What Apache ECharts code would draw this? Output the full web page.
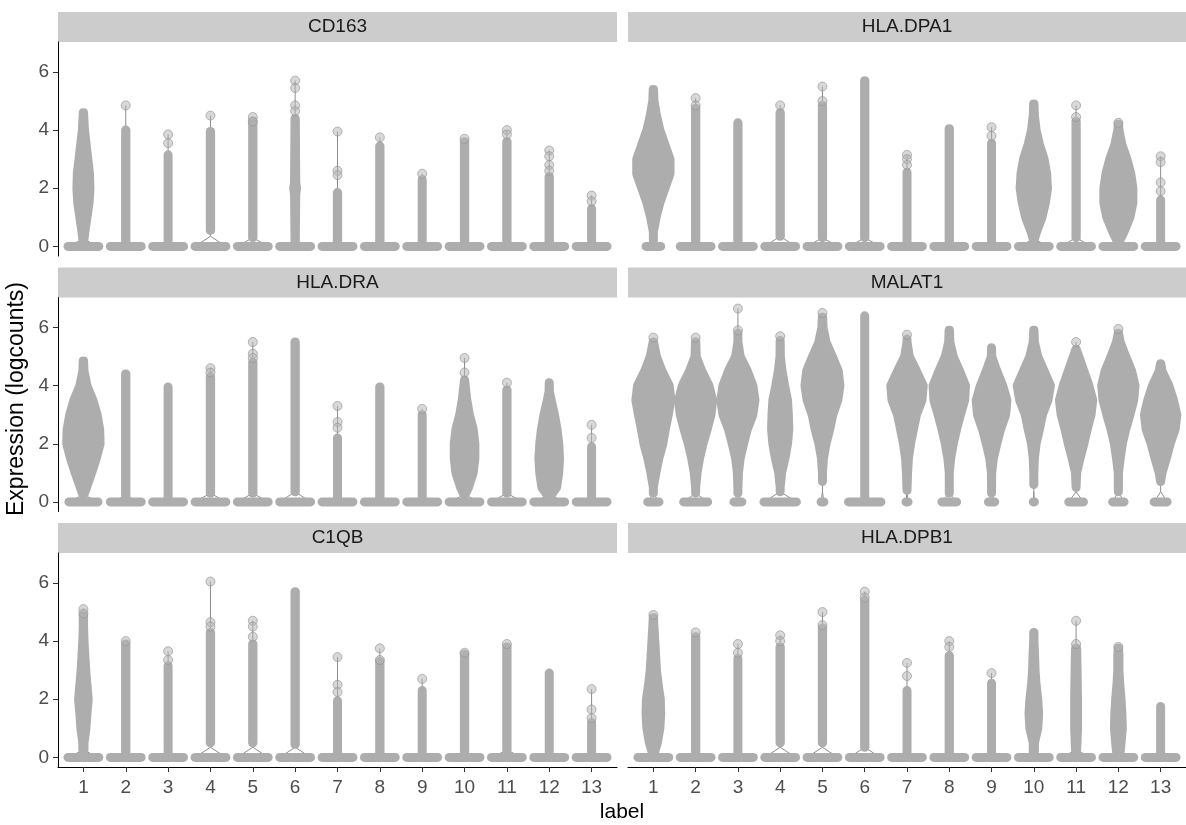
<!DOCTYPE html>
<html>
<head>
<meta charset="utf-8">
<script src="https://cdn.jsdelivr.net/npm/echarts@6/dist/echarts.min.js"></script>
<style>
  html, body { margin: 0; padding: 0; background: #fff; }
  #chart { width: 1186px; height: 825px; }
</style>
</head>
<body>
<div id="chart"></div>
<script>
// cluster labels and facet names
const clusters = ['1', '2', '3', '4', '5', '6', '7', '8', '9', '10', '11', '12', '13'];
const genes = ['CD163', 'HLA.DPA1', 'HLA.DRA', 'MALAT1', 'C1QB', 'HLA.DPB1'];
const yTicks = [0, 2, 4, 6];

// per gene: half-width of the zero blob (x units), violin body as [y, half-width] pairs,
// and the single outlying points above each body
const cd163Zero = [0.47, 0.47, 0.47, 0.47, 0.47, 0.47, 0.47, 0.47, 0.47, 0.47, 0.47, 0.47, 0.47];
const cd163Body = [
  [[0.25, 0.12], [0.5, 0.14], [1, 0.19], [1.5, 0.24], [2, 0.26], [2.5, 0.25], [3, 0.21], [3.5, 0.17], [4, 0.13], [4.6, 0.11]],
  [[0.2, 0.11], [4.0, 0.11]],
  [[0.15, 0.1], [3.15, 0.1]],
  [[0.55, 0.11], [3.95, 0.11]],
  [[0.3, 0.11], [4.3, 0.11]],
  [[0.2, 0.11], [1.8, 0.12], [2.0, 0.14], [2.2, 0.12], [4.4, 0.11]],
  [[0.1, 0.11], [1.85, 0.11]],
  [[0.1, 0.11], [3.45, 0.11]],
  [[0.1, 0.1], [2.3, 0.1]],
  [[0.2, 0.11], [3.6, 0.11]],
  [[0.2, 0.11], [3.6, 0.11]],
  [[0.1, 0.11], [2.4, 0.11]],
  [[0.1, 0.1], [1.3, 0.1]]
];
const cd163Pts = [[], [4.85], [3.85, 3.55], [4.5], [4.45, 4.3], [5.7, 5.45, 4.85, 4.65], [3.95, 2.6, 2.45], [3.75], [2.5], [3.7], [4.0, 3.85], [3.3, 3.1, 2.8, 2.6], [1.75, 1.55]];

const dpa1Zero = [0.28, 0.47, 0.47, 0.47, 0.47, 0.47, 0.47, 0.47, 0.47, 0.47, 0.47, 0.47, 0.47];
const dpa1Body = [
  [[0.2, 0.1], [0.5, 0.1], [1, 0.17], [1.5, 0.26], [2, 0.38], [2.5, 0.5], [3, 0.5], [3.5, 0.38], [4, 0.26], [4.5, 0.18], [5, 0.12], [5.4, 0.11]],
  [[0.2, 0.11], [4.75, 0.11]],
  [[0.2, 0.11], [4.25, 0.11]],
  [[0.35, 0.11], [4.6, 0.11]],
  [[0.3, 0.11], [4.85, 0.11]],
  [[0.3, 0.11], [5.7, 0.11]],
  [[0.1, 0.1], [2.55, 0.1]],
  [[0.2, 0.11], [4.05, 0.11]],
  [[0.1, 0.1], [3.55, 0.1]],
  [[0.25, 0.12], [0.5, 0.17], [1, 0.3], [1.5, 0.38], [2, 0.43], [2.5, 0.41], [3, 0.35], [3.5, 0.24], [4, 0.16], [4.5, 0.12], [4.9, 0.11]],
  [[0.3, 0.11], [4.3, 0.11]],
  [[0.2, 0.14], [0.5, 0.24], [1, 0.38], [1.5, 0.45], [2, 0.45], [2.5, 0.4], [3, 0.31], [3.5, 0.19], [4, 0.12], [4.2, 0.11]],
  [[0.1, 0.1], [1.6, 0.1]]
];
const dpa1Pts = [[], [5.1, 4.85], [], [4.85], [5.5, 5.0], [], [3.15, 3.0, 2.8], [], [4.1, 3.8], [], [4.85, 4.45], [4.25], [3.1, 2.9, 2.2, 1.9]];

const draZero = [0.45, 0.47, 0.47, 0.47, 0.47, 0.47, 0.47, 0.47, 0.47, 0.47, 0.47, 0.47, 0.47];
const draBody = [
  [[0.25, 0.12], [0.5, 0.18], [1, 0.3], [1.5, 0.41], [2, 0.5], [2.5, 0.49], [3, 0.43], [3.5, 0.33], [4, 0.19], [4.5, 0.12], [4.85, 0.11]],
  [[0.2, 0.11], [4.4, 0.11]],
  [[0.1, 0.1], [3.95, 0.1]],
  [[0.3, 0.11], [4.3, 0.11]],
  [[0.3, 0.11], [4.8, 0.11]],
  [[0.35, 0.11], [5.5, 0.11]],
  [[0.1, 0.1], [2.2, 0.1]],
  [[0.1, 0.11], [3.95, 0.11]],
  [[0.1, 0.1], [3.0, 0.1]],
  [[0.25, 0.12], [0.5, 0.2], [1, 0.31], [1.5, 0.35], [2, 0.35], [2.5, 0.31], [3, 0.22], [3.5, 0.16], [4.2, 0.1]],
  [[0.3, 0.11], [3.85, 0.11]],
  [[0.25, 0.16], [0.5, 0.28], [1, 0.33], [1.5, 0.35], [2, 0.33], [2.5, 0.29], [3, 0.23], [3.5, 0.15], [3.8, 0.11], [4.1, 0.1]],
  [[0.1, 0.1], [1.9, 0.1]]
];
const draPts = [[], [], [], [4.6, 4.45], [5.5, 5.1, 4.95], [], [3.3, 2.75, 2.55], [], [3.2], [4.95, 4.45], [4.1], [], [2.65, 2.2]];

const malat1Zero = [0.24, 0.39, 0.2, 0.49, 0.14, 0.49, 0.13, 0.28, 0.18, 0.12, 0.28, 0.24, 0.26];
const malat1Body = [
  [[0.3, 0.09], [0.5, 0.094], [1, 0.165], [1.5, 0.236], [2, 0.33], [2.5, 0.39], [3, 0.46], [3.5, 0.52], [4, 0.48], [4.5, 0.31], [5, 0.18], [5.5, 0.11]],
  [[0.3, 0.09], [0.5, 0.094], [1, 0.14], [1.5, 0.2], [2, 0.28], [2.5, 0.38], [3, 0.47], [3.5, 0.51], [4, 0.42], [4.5, 0.25], [5, 0.12], [5.5, 0.11]],
  [[0.3, 0.08], [0.5, 0.08], [1, 0.12], [1.5, 0.16], [2, 0.24], [2.5, 0.33], [3, 0.46], [3.5, 0.51], [4, 0.46], [4.5, 0.33], [5, 0.16], [5.5, 0.1], [5.8, 0.1]],
  [[0.35, 0.07], [0.5, 0.07], [1, 0.14], [1.5, 0.22], [2, 0.28], [2.5, 0.31], [3, 0.3], [3.5, 0.28], [4, 0.21], [4.5, 0.15], [5, 0.11], [5.55, 0.1]],
  [[0.7, 0.09], [1, 0.09], [1.5, 0.13], [2, 0.19], [2.5, 0.28], [3, 0.35], [3.5, 0.47], [4, 0.52], [4.5, 0.48], [5, 0.34], [5.5, 0.19], [6, 0.12], [6.35, 0.11]],
  [[0.1, 0.1], [6.4, 0.1]],
  [[0.4, 0.1], [1, 0.12], [1.5, 0.14], [2, 0.19], [2.5, 0.26], [3, 0.33], [3.5, 0.46], [4, 0.49], [4.5, 0.33], [5, 0.16], [5.5, 0.1], [5.6, 0.1]],
  [[0.3, 0.09], [1, 0.094], [1.5, 0.14], [2, 0.2], [2.5, 0.28], [3, 0.37], [3.5, 0.47], [4, 0.49], [4.5, 0.35], [5, 0.2], [5.5, 0.12], [5.9, 0.11]],
  [[0.3, 0.09], [0.5, 0.09], [1, 0.11], [1.5, 0.15], [2, 0.23], [2.5, 0.32], [3, 0.44], [3.5, 0.47], [4, 0.37], [4.5, 0.23], [5, 0.11], [5.3, 0.1]],
  [[0.6, 0.08], [1, 0.08], [1.5, 0.12], [2, 0.16], [2.5, 0.24], [3, 0.31], [3.5, 0.44], [4, 0.5], [4.5, 0.35], [5, 0.2], [5.5, 0.12], [5.9, 0.11]],
  [[0.5, 0.09], [1, 0.12], [1.5, 0.2], [2, 0.29], [2.5, 0.37], [3, 0.46], [3.5, 0.5], [4, 0.41], [4.5, 0.29], [5, 0.17], [5.25, 0.11]],
  [[0.35, 0.09], [1, 0.11], [1.5, 0.15], [2, 0.2], [2.5, 0.28], [3, 0.38], [3.5, 0.47], [4, 0.5], [4.5, 0.42], [5, 0.28], [5.5, 0.15], [5.8, 0.11]],
  [[0.7, 0.1], [1, 0.14], [1.5, 0.24], [2, 0.33], [2.5, 0.45], [3, 0.49], [3.5, 0.41], [4, 0.3], [4.5, 0.14], [4.75, 0.11]]
];
const malat1Pts = [[5.65], [5.65], [6.65, 5.9], [5.7], [6.5], [], [5.75], [], [], [], [5.5], [5.95], []];

const c1qbZero = [0.47, 0.47, 0.47, 0.47, 0.47, 0.47, 0.47, 0.47, 0.47, 0.47, 0.47, 0.47, 0.47];
const c1qbBody = [
  [[0.25, 0.12], [0.5, 0.12], [1, 0.165], [1.5, 0.19], [2, 0.22], [3, 0.16], [4, 0.12], [4.5, 0.11], [4.9, 0.11]],
  [[0.2, 0.11], [3.9, 0.11]],
  [[0.2, 0.1], [3.15, 0.1]],
  [[0.5, 0.11], [4.3, 0.11]],
  [[0.5, 0.11], [3.9, 0.11]],
  [[0.45, 0.11], [5.7, 0.11]],
  [[0.1, 0.1], [1.95, 0.1]],
  [[0.1, 0.11], [3.3, 0.11]],
  [[0.1, 0.1], [2.3, 0.1]],
  [[0.2, 0.11], [3.55, 0.11]],
  [[0.25, 0.11], [3.8, 0.11]],
  [[0.1, 0.1], [2.9, 0.1]],
  [[0.1, 0.1], [1.2, 0.1]]
];
const c1qbPts = [[5.1, 4.95], [4.0], [3.65, 3.35], [6.05, 4.65, 4.5], [4.7, 4.5, 4.15], [], [3.45, 2.5, 2.25], [3.75, 3.35], [2.7], [3.6], [3.9], [], [2.35, 1.65, 1.35]];

const dpb1Zero = [0.47, 0.47, 0.47, 0.47, 0.47, 0.47, 0.47, 0.47, 0.47, 0.47, 0.47, 0.47, 0.47];
const dpb1Body = [
  [[0.2, 0.14], [0.5, 0.2], [1, 0.26], [1.5, 0.28], [2, 0.27], [2.5, 0.22], [3, 0.18], [4, 0.14], [4.5, 0.12], [4.8, 0.11]],
  [[0.2, 0.11], [4.15, 0.11]],
  [[0.2, 0.1], [3.4, 0.1]],
  [[0.5, 0.11], [3.8, 0.11]],
  [[0.5, 0.11], [4.45, 0.11]],
  [[0.35, 0.11], [5.4, 0.11]],
  [[0.1, 0.1], [2.3, 0.1]],
  [[0.1, 0.11], [3.5, 0.11]],
  [[0.1, 0.1], [2.55, 0.1]],
  [[0.2, 0.12], [0.5, 0.12], [1, 0.2], [1.5, 0.22], [2, 0.2], [2.5, 0.16], [3, 0.135], [3.5, 0.125], [4, 0.11], [4.3, 0.11]],
  [[0.25, 0.12], [1, 0.14], [2, 0.14], [3, 0.13], [3.75, 0.12]],
  [[0.2, 0.15], [0.5, 0.17], [1, 0.2], [1.5, 0.19], [2, 0.17], [2.5, 0.14], [3, 0.12], [3.5, 0.12], [3.75, 0.11]],
  [[0.1, 0.1], [1.75, 0.1]]
];
const dpb1Pts = [[4.9], [4.3], [3.9, 3.6], [4.2, 4.0], [5.0, 4.55], [5.7, 5.5], [3.25, 2.8], [4.0, 3.8], [2.9], [], [4.7, 3.9], [3.8], []];

const zeroWidths = [cd163Zero, dpa1Zero, draZero, malat1Zero, c1qbZero, dpb1Zero];
const bodies = [cd163Body, dpa1Body, draBody, malat1Body, c1qbBody, dpb1Body];
const outliers = [cd163Pts, dpa1Pts, draPts, malat1Pts, c1qbPts, dpb1Pts];

const FILL = '#adadad';
const EDGE = '#8c8c8c';
const R = 4.5; // point radius in px
const FONT = '"Liberation Sans", Arial, sans-serif';

const colLeft = [58, 628];
const colWidth = [559, 558];
const rowTop = [42, 297.5, 553];
const plotH = 214;
const stripH = 30;

const chart = echarts.init(document.getElementById('chart'));

function violinRenderer(g) {
  return function (params, api) {
    const j = params.dataIndex;
    const k = api.value(0);
    const body = bodies[g][j];
    const pts = outliers[g][j];
    const unit = api.size([1, 0])[0];
    const cx = api.coord([k, 0])[0];
    const cy = (v) => api.coord([k, v])[1];
    const z0 = Math.max(0, zeroWidths[g][j] * unit - R);
    const children = [];

    // violin outline: neck down to the zero spike and tail up to the max point
    const yb = body[0][0];
    const yt = body[body.length - 1][0];
    const neck = Math.min(yb, 0.35);
    if (yb > neck) {
      children.push({ type: 'line', shape: { x1: cx, y1: cy(yb), x2: cx, y2: cy(neck) }, style: { stroke: EDGE, lineWidth: 1 } });
    }
    children.push({
      type: 'polyline',
      shape: { points: [[cx - z0, cy(0)], [cx, cy(neck)], [cx + z0, cy(0)]] },
      style: { stroke: EDGE, lineWidth: 1, fill: null }
    });
    if (pts.length) {
      const top = Math.max.apply(null, pts);
      if (top > yt) {
        children.push({ type: 'line', shape: { x1: cx, y1: cy(yt), x2: cx, y2: cy(top) }, style: { stroke: EDGE, lineWidth: 1 } });
      }
    }

    // dense point cloud of the body
    const right = body.map((p) => [cx + Math.max(0, p[1] * unit - R), cy(p[0])]);
    const left = body.slice().reverse().map((p) => [cx - Math.max(0, p[1] * unit - R), cy(p[0])]);
    children.push({
      type: 'polygon',
      shape: { points: right.concat(left) },
      style: { fill: FILL, stroke: FILL, lineWidth: 2 * R, lineJoin: 'round', lineCap: 'round' }
    });

    // points sitting at zero
    children.push({
      type: 'line',
      shape: { x1: cx - z0, y1: cy(0), x2: cx + z0 + 0.01, y2: cy(0) },
      style: { stroke: FILL, lineWidth: 2 * R, lineCap: 'round' }
    });

    return { type: 'group', children: children };
  };
}

const grids = [], xAxes = [], yAxes = [], series = [], graphics = [];

genes.forEach((gene, i) => {
  const col = i % 2, row = Math.floor(i / 2);
  const bottom = row === 2;
  grids.push({ left: colLeft[col], top: rowTop[row], width: colWidth[col], height: plotH });

  xAxes.push({
    type: 'value', gridIndex: i, min: 0.4, max: 13.6,
    axisLine: { show: bottom, onZero: false, lineStyle: { color: '#000', width: 1 } },
    axisTick: { show: bottom, customValues: clusters.map((c, j) => j + 1), length: 5, lineStyle: { color: '#333' } },
    axisLabel: {
      show: bottom, customValues: clusters.map((c, j) => j + 1),
      formatter: (v) => clusters[Math.round(v) - 1],
      fontSize: 19, color: '#4d4d4d', fontFamily: FONT, margin: 11
    },
    splitLine: { show: false }
  });

  yAxes.push({
    type: 'value', gridIndex: i, min: -0.33, max: 7.03,
    axisLine: { show: col === 0, onZero: false, lineStyle: { color: '#000', width: 1 } },
    axisTick: { show: col === 0, customValues: yTicks, length: 5, lineStyle: { color: '#333' } },
    axisLabel: { show: col === 0, customValues: yTicks, fontSize: 19, color: '#4d4d4d', fontFamily: FONT, margin: 9 },
    splitLine: { show: false }
  });

  series.push({
    type: 'custom', name: gene, xAxisIndex: i, yAxisIndex: i, silent: true,
    data: clusters.map((c, j) => [j + 1, 0]),
    renderItem: violinRenderer(i),
    z: 2
  });

  const pointData = [];
  outliers[i].forEach((list, j) => list.forEach((v) => pointData.push([j + 1, v])));
  series.push({
    type: 'scatter', xAxisIndex: i, yAxisIndex: i, silent: true,
    data: pointData, symbol: 'circle', symbolSize: 2 * R,
    itemStyle: { color: 'rgba(180,180,180,0.65)', borderColor: 'rgba(145,145,145,0.8)', borderWidth: 1 },
    z: 3
  });

  graphics.push({
    type: 'rect', left: colLeft[col], top: rowTop[row] - stripH,
    shape: { width: colWidth[col], height: stripH },
    style: { fill: '#cccccc' }, silent: true
  });
  graphics.push({
    type: 'text', x: colLeft[col] + colWidth[col] / 2, y: rowTop[row] - stripH / 2,
    style: { text: gene, fill: '#1a1a1a', font: '19px ' + FONT, textAlign: 'center', textVerticalAlign: 'middle' },
    silent: true
  });
});

graphics.push({
  type: 'text', x: 17, y: 399, rotation: Math.PI / 2,
  style: { text: 'Expression (logcounts)', fill: '#000', font: '23px ' + FONT, textAlign: 'center', textVerticalAlign: 'middle' },
  silent: true
});
graphics.push({
  type: 'text', x: 622, y: 812,
  style: { text: 'label', fill: '#000', font: '21px ' + FONT, textAlign: 'center', textVerticalAlign: 'middle' },
  silent: true
});

chart.setOption({
  animation: false,
  backgroundColor: '#fff',
  grid: grids,
  xAxis: xAxes,
  yAxis: yAxes,
  series: series,
  graphic: graphics
});
</script>
</body>
</html>
